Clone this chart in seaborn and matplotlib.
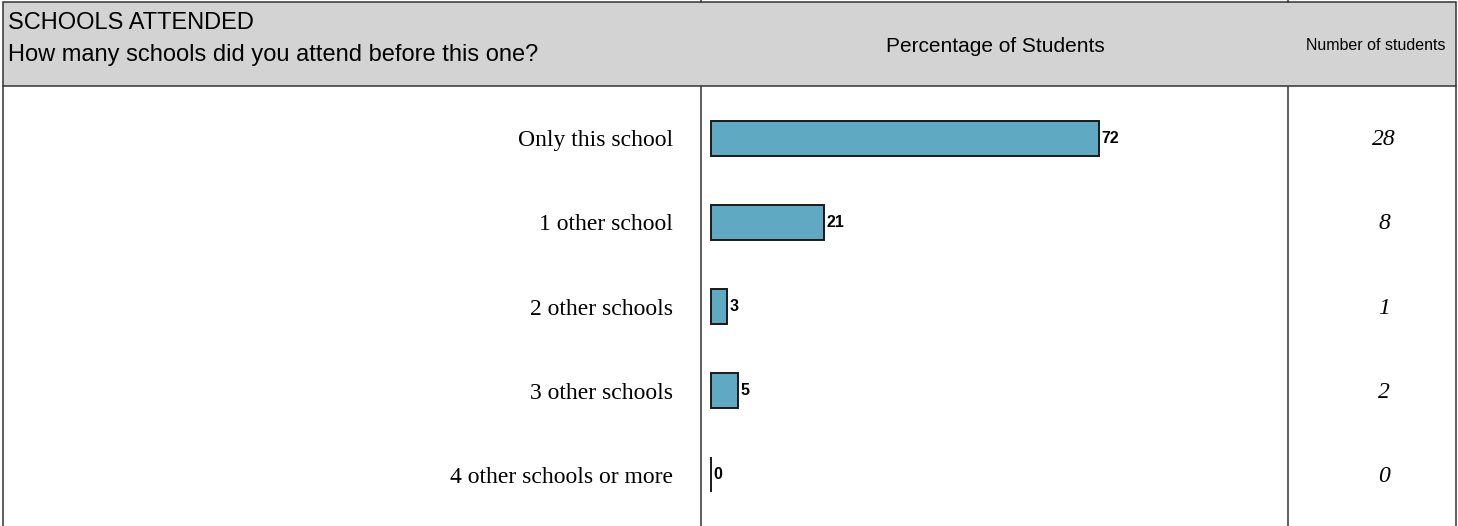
import numpy as np
import pandas as pd
import seaborn as sns
import matplotlib.pyplot as plt
from matplotlib.patches import Rectangle
from matplotlib.lines import Line2D
from matplotlib.transforms import blended_transform_factory

categories = ["Only this school", "1 other school", "2 other schools",
              "3 other schools", "4 other schools or more"]
percent = [72, 21, 3, 5, 0]
counts = [28, 8, 1, 2, 0]

title = "SCHOOLS ATTENDED"
question = "How many schools did you attend before this one?"

df = pd.DataFrame({"category": categories, "percent": percent})

sns.set_style("white")
plt.rcParams["font.family"] = ["Liberation Sans", "DejaVu Sans"]
plt.rcParams["text.color"] = "black"
plt.rcParams["ytick.color"] = "black"

W, H = 1458, 526
fig = plt.figure(figsize=(W / 100, H / 100), dpi=100)

def px(x):
    return x / W

def py(y):
    return 1 - y / H

line_col = "#333333"
lw = 1.1

# header band
fig.patches.append(Rectangle((px(3), py(86)), px(1456) - px(3), py(2) - py(86),
                             transform=fig.transFigure, facecolor="#d3d3d3",
                             edgecolor=line_col, linewidth=lw))
for x in (701, 1288):
    fig.lines.append(Line2D([px(x), px(x)], [py(0), py(2)], transform=fig.transFigure,
                            color=line_col, linewidth=lw))
# outer body borders
for x in (3, 1456):
    fig.lines.append(Line2D([px(x), px(x)], [py(86), py(526)], transform=fig.transFigure,
                            color=line_col, linewidth=lw))

fig.text(px(8), py(23), title, fontsize=17, va="center", ha="left")
fig.text(px(8), py(55), question, fontsize=17, va="center", ha="left")
fig.text(px(995), py(46), "Percentage of Students", fontsize=15, va="center", ha="center")
fig.text(px(1376), py(45), "Number of students", fontsize=11.5, va="center", ha="center")

ax = fig.add_axes([px(701), py(526), px(1288) - px(701), py(86) - py(526)])
sns.barplot(data=df, x="percent", y="category", orient="h", color="#5fa9c2",
            saturation=1, edgecolor="#1a1a1a", linewidth=1.4, width=0.417, ax=ax)

ax.set_xlim(-1.86, 107.2)
ax.set_ylim(4.607, -0.619)
ax.set_xlabel("")
ax.set_ylabel("")
ax.set_xticks([])
ax.tick_params(axis="y", length=0, pad=20)
for lab in ax.get_yticklabels():
    lab.set_fontfamily(["Liberation Serif", "DejaVu Serif"])
    lab.set_fontsize(17)
    lab.set_color("black")
for side in ("top", "bottom"):
    ax.spines[side].set_visible(False)
for side in ("left", "right"):
    ax.spines[side].set_color(line_col)
    ax.spines[side].set_linewidth(lw)

ax.bar_label(ax.containers[0], fmt="%d", padding=2, fontsize=11.5,
             fontweight="bold", color="black")

trans = blended_transform_factory(fig.transFigure, ax.transData)
for i, n in enumerate(counts):
    ax.text(px(1384), i + 0.02, str(n), transform=trans, ha="center", va="center",
            fontsize=17, fontstyle="italic", color="black",
            fontfamily=["Liberation Serif", "DejaVu Serif"], clip_on=False)

fig.savefig("out.png", dpi=100)
